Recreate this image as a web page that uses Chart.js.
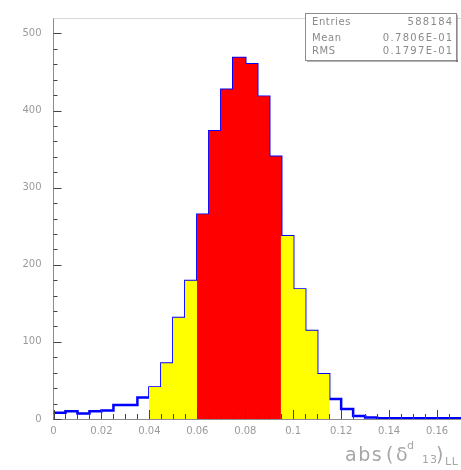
<!DOCTYPE html>
<html>
<head>
<meta charset="utf-8">
<script src="https://cdn.jsdelivr.net/npm/chart.js@4.4.1/dist/chart.umd.min.js"></script>
<style>
html,body{margin:0;padding:0;background:#ffffff;overflow:hidden}
#wrap{width:461px;height:470px;position:relative}
</style>
</head>
<body>
<div id="wrap"><canvas id="c" width="461" height="470"></canvas></div>
<script>
// ---- data ----
const binEdges = [0, 0.005, 0.01, 0.015, 0.02, 0.025, 0.03, 0.035, 0.04, 0.045,
  0.05, 0.055, 0.06, 0.065, 0.07, 0.075, 0.08, 0.085, 0.09, 0.095,
  0.1, 0.105, 0.11, 0.115, 0.12, 0.125, 0.13, 0.135, 0.14, 0.145,
  0.15, 0.155, 0.16, 0.165, 0.17];
const counts = [8, 10, 7, 10, 11, 18, 18, 28, 41, 72,
  131, 179, 265, 373, 427, 468, 460, 418, 340, 237,
  168, 114, 58, 26, 13, 4, 2, 1, 1, 1,
  1, 1, 1, 1];
const yellowBands = [[0.04, 0.06], [0.095, 0.115]];
const redBands = [[0.06, 0.095]];
const xTickLabels = [0, 0.02, 0.04, 0.06, 0.08, 0.1, 0.12, 0.14, 0.16];
const yTickLabels = [0, 100, 200, 300, 400, 500];
const statsLabels = ['Entries', 'Mean', 'RMS'];
const statsValues = ['588184', '0.7806E-01', '0.1797E-01'];
const axisTitleParts = { main: 'abs', open: '(', sym: 'δ', sup: 'd', sub: '13', close: ')', sub2: 'LL' };

// ---- build datasets from the arrays ----
const binCenters = counts.map((c, i) => (binEdges[i] + binEdges[i + 1]) / 2);
function bandColor(x) {
  for (const [a, b] of redBands) if (x > a && x < b) return '#ff0000';
  for (const [a, b] of yellowBands) if (x > a && x < b) return '#ffff00';
  return null;
}
const fillPoints = [], fillColors = [];
counts.forEach((c, i) => {
  const col = bandColor(binCenters[i]);
  if (col) { fillPoints.push({ x: binCenters[i], y: c }); fillColors.push(col); }
});
const stepPoints = counts.map((c, i) => ({ x: binEdges[i], y: c }));
stepPoints.push({ x: binEdges[binEdges.length - 1], y: counts[counts.length - 1] });

const FONT = 'DejaVu Sans';

const decor = {
  id: 'decor',
  afterDraw(chart) {
    const ctx = chart.ctx;
    const a = chart.chartArea;
    const xs = chart.scales.x, ys = chart.scales.y;
    ctx.save();
    // top frame line
    ctx.strokeStyle = '#d9d9d9';
    ctx.lineWidth = 1;
    ctx.beginPath();
    ctx.moveTo(a.left, Math.round(a.top) + 0.5);
    ctx.lineTo(chart.width, Math.round(a.top) + 0.5);
    ctx.stroke();
    // inner tick marks
    ctx.strokeStyle = '#444444';
    ctx.lineWidth = 1;
    ctx.beginPath();
    for (let i = 0; i <= 25; i++) {
      const v = i * 20;
      const py = Math.round(ys.getPixelForValue(v)) + 0.5;
      const len = (i % 5 === 0) ? 8 : 4;
      ctx.moveTo(a.left, py); ctx.lineTo(a.left + len, py);
    }
    for (let i = 0; i <= 34; i++) {
      const v = i * 0.005;
      const px = Math.round(xs.getPixelForValue(v)) + 0.5;
      const len = (i % 4 === 0) ? 9 : 5;
      ctx.moveTo(px, a.bottom); ctx.lineTo(px, a.bottom - len);
    }
    ctx.stroke();

    // stats box
    const bx = 305, by = 13, bw = 151, bh = 47;
    ctx.fillStyle = '#ffffff';
    ctx.fillRect(bx, by, bw, bh);
    ctx.fillStyle = '#6a6a6a';
    ctx.fillRect(bx + 2, by + bh, bw, 1.5);
    ctx.fillRect(bx + bw, by + 2, 1.5, bh);
    ctx.strokeStyle = '#8c8c8c';
    ctx.lineWidth = 1;
    ctx.strokeRect(bx + 0.5, by + 0.5, bw, bh);
    ctx.fillStyle = '#8a8a8a';
    ctx.font = '10px "' + FONT + '"';
    ctx.textBaseline = 'middle';
    const rows = [22, 38, 51];
    statsLabels.forEach((t, i) => {
      ctx.letterSpacing = '0.6px';
      ctx.textAlign = 'left';
      ctx.fillText(t, 312, rows[i]);
      ctx.letterSpacing = '1.3px';
      ctx.textAlign = 'right';
      ctx.fillText(statsValues[i], 453.5, rows[i]);
    });

    // x axis title
    ctx.textAlign = 'left';
    ctx.textBaseline = 'alphabetic';
    ctx.fillStyle = '#a6a6a6';
    ctx.font = '19px "' + FONT + '"';
    ctx.letterSpacing = '1.5px';
    ctx.fillText(axisTitleParts.main, 345, 461);
    ctx.letterSpacing = '0px';
    ctx.fillText(axisTitleParts.open, 386, 461);
    ctx.fillText(axisTitleParts.sym, 396, 461);
    ctx.font = '11px "' + FONT + '"';
    ctx.fillText(axisTitleParts.sup, 407, 449);
    ctx.letterSpacing = '1px';
    ctx.fillText(axisTitleParts.sub, 422, 463);
    ctx.letterSpacing = '0px';
    ctx.font = '19px "' + FONT + '"';
    ctx.fillText(axisTitleParts.close, 436, 461);
    ctx.font = '11px "' + FONT + '"';
    ctx.letterSpacing = '0.5px';
    ctx.fillText(axisTitleParts.sub2, 445, 465);
    ctx.restore();
  }
};

new Chart(document.getElementById('c'), {
  type: 'line',
  data: {
    datasets: [
      { type: 'bar', data: fillPoints, backgroundColor: fillColors, borderWidth: 0,
        barPercentage: 1, categoryPercentage: 1, order: 0 },
      { type: 'line', data: stepPoints, stepped: true, borderColor: '#0000ff',
        borderWidth: 2.5, pointRadius: 0, fill: false, order: 1 }
    ]
  },
  options: {
    responsive: false,
    devicePixelRatio: 1,
    animation: false,
    events: [],
    layout: { padding: { top: 11, right: 0, left: 0, bottom: 0 } },
    plugins: { legend: { display: false }, tooltip: { enabled: false } },
    scales: {
      x: {
        type: 'linear', min: 0, max: 0.17, offset: false, z: 1,
        afterBuildTicks: s => { s.ticks = xTickLabels.map(v => ({ value: v })); },
        afterFit: s => { s.height = 51; },
        grid: { display: false, drawTicks: false },
        border: { display: true, color: '#8c8c8c', width: 1 },
        ticks: { padding: 6, color: '#9a9a9a', font: { family: FONT, size: 10 },
          maxRotation: 0, autoSkip: false, callback: v => String(v) }
      },
      y: {
        type: 'linear', min: 0, max: 520, z: 1,
        afterBuildTicks: s => { s.ticks = yTickLabels.map(v => ({ value: v })); },
        afterFit: s => { s.width = 53.5; },
        grid: { display: false, drawTicks: false },
        border: { display: true, color: '#8c8c8c', width: 1 },
        ticks: { padding: 12, color: '#9a9a9a', font: { family: FONT, size: 10 },
          callback: v => String(v) }
      }
    }
  },
  plugins: [decor]
});
</script>
</body>
</html>
